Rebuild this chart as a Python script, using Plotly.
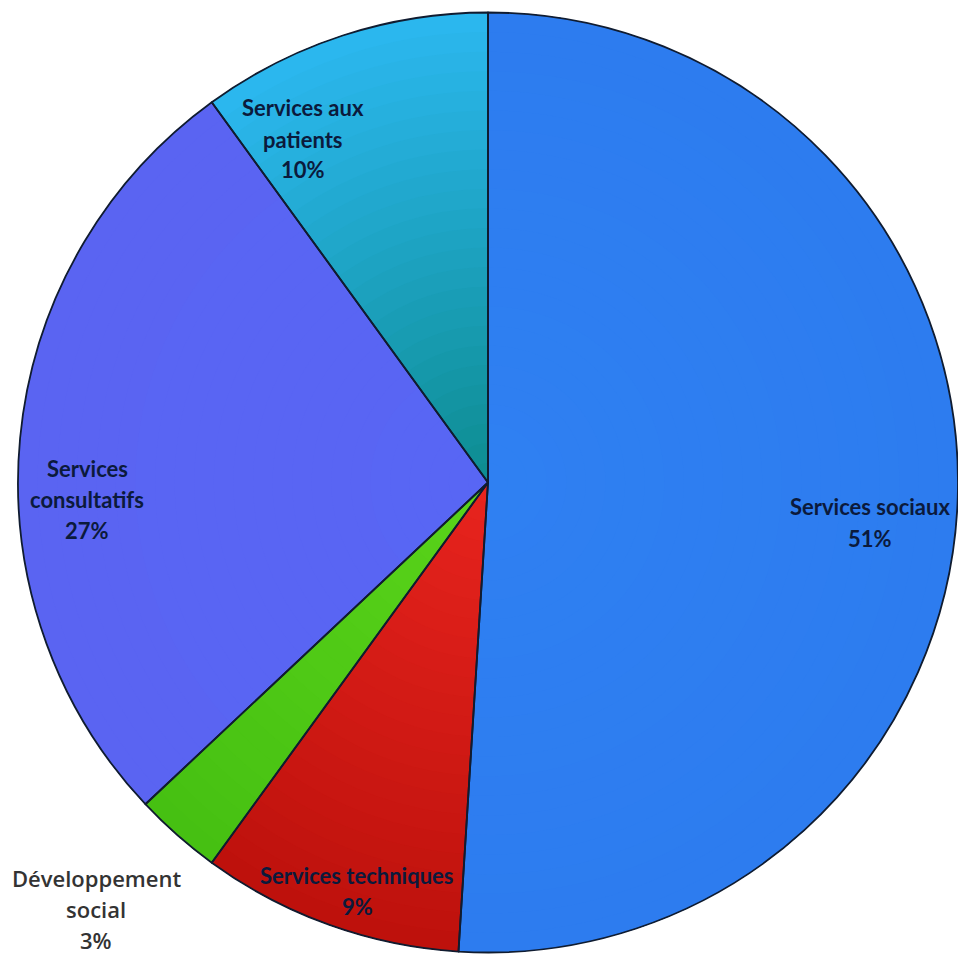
import plotly.graph_objects as go

# Budget breakdown by service (percent)
categories = [
    "Services sociaux",
    "Services techniques",
    "Développement social",
    "Services consultatifs",
    "Services aux patients",
]
values = [51, 9, 3, 27, 10]

# Each slice is shaded from an inner colour (centre) to an outer colour (rim)
inner_colors = ["#2f80f2", "#e8241e", "#5ad41a", "#5866f4", "#0d8c90"]
outer_colors = ["#2d7cef", "#bd110c", "#46c012", "#5a64f2", "#2cb8f0"]

# Label lines and their placement (pixels in the 958x965 canvas)
label_lines = [
    ["Services sociaux"],
    ["Services techniques"],
    ["Développement", "social"],
    ["Services", "consultatifs"],
    ["Services aux", "patients"],
]
label_pos = [(870, 507), (357, 875), (96, 878), (87, 468), (303, 108)]
inside_label = [True, True, False, True, True]

W, H = 958, 965
LINE_GAP = 31
N_RINGS = 24


def hex_to_rgb(h):
    h = h.lstrip("#")
    return tuple(int(h[i:i + 2], 16) for i in (0, 2, 4))


def mix(c1, c2, t):
    a, b = hex_to_rgb(c1), hex_to_rgb(c2)
    return "rgb({},{},{})".format(*[round(a[i] + (b[i] - a[i]) * t) for i in range(3)])


domain = dict(x=[18 / W, 1.0], y=[0.0, 1.0])
common = dict(
    labels=categories,
    values=values,
    sort=False,
    direction="clockwise",
    rotation=0,
    textinfo="none",
    hoverinfo="label+percent",
    showlegend=False,
    domain=domain,
)

fig = go.Figure()

# Concentric rings build the radial shading of every slice
for k in range(N_RINGS):
    t = (k + 0.5) / N_RINGS
    fig.add_trace(go.Pie(
        hole=k / N_RINGS,
        marker=dict(
            colors=[mix(i, o, t) for i, o in zip(inner_colors, outer_colors)],
            line=dict(width=0),
        ),
        **common,
    ))

# Dark outlines around the slices
fig.add_trace(go.Pie(
    marker=dict(
        colors=["rgba(0,0,0,0)"] * len(values),
        line=dict(color="#101c30", width=1.8),
    ),
    **common,
))

annotations = []
for lines, val, (px, py), inside in zip(label_lines, values, label_pos, inside_label):
    all_lines = lines + [f"{val}%"]
    for j, txt in enumerate(all_lines):
        if inside:
            font = dict(family="Lato", size=22, color="#0b1a3c", weight="bold")
            text = f"<b>{txt}</b>"
        else:
            font = dict(family="Open Sans", size=22, color="#333333", weight=600)
            text = txt
        annotations.append(dict(
            x=px / W,
            y=1 - (py + j * LINE_GAP) / H,
            xref="paper",
            yref="paper",
            text=text,
            showarrow=False,
            xanchor="center",
            yanchor="middle",
            font=font,
        ))

fig.update_layout(
    width=W,
    height=H,
    margin=dict(l=0, r=0, t=0, b=0),
    paper_bgcolor="white",
    plot_bgcolor="white",
    annotations=annotations,
)

fig.write_html("out.html")
